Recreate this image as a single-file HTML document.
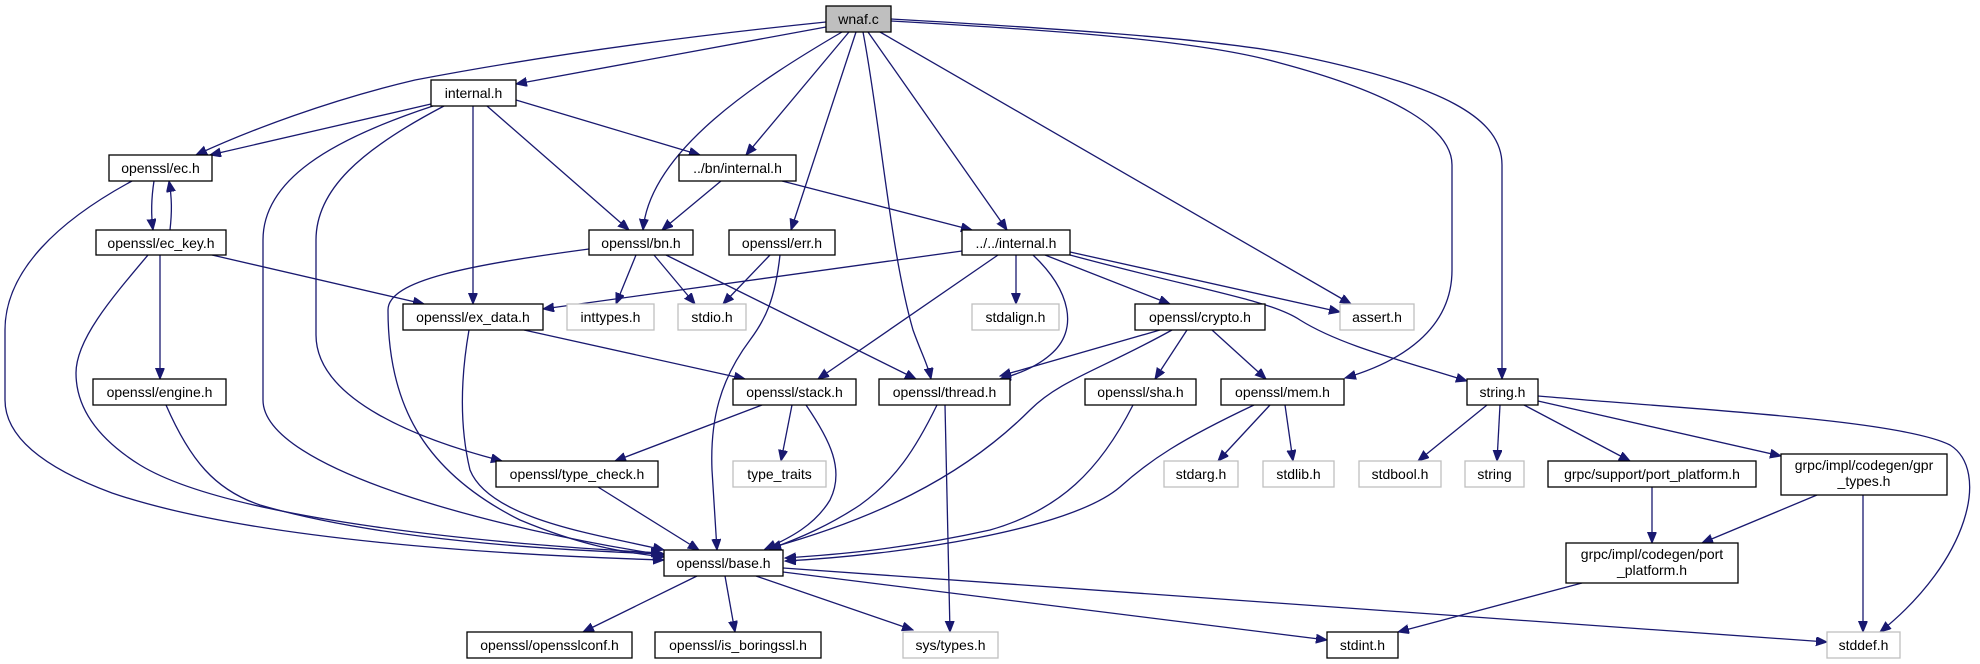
<!DOCTYPE html>
<html><head><meta charset="utf-8"><style>
html,body{margin:0;padding:0;background:#fff;}
svg{display:block;}
text{font-family:"Liberation Sans",sans-serif;font-size:14px;fill:#000;}
.e{fill:none;stroke:#191970;stroke-width:1.3;}
.n{fill:#fff;stroke:#000;stroke-width:1.3;}
.g{fill:#fff;stroke:#bfbfbf;stroke-width:1.3;}
</style></head><body>
<svg width="1980" height="664" viewBox="0 0 1980 664" xmlns="http://www.w3.org/2000/svg">
<defs><marker id="a" markerUnits="userSpaceOnUse" markerWidth="12" markerHeight="10" refX="11" refY="4.5" orient="auto"><path d="M0,0 L11,4.5 L0,9 z" fill="#191970" stroke="#191970"/></marker></defs>
<g marker-end="url(#a)">
<path class="e" d="M826,27 L516,84"/>
<path class="e" d="M826,22 C650,40 520,60 415,80 C330,100 250,130 196,155"/>
<path class="e" d="M842,32 C760,80 650,150 643,230"/>
<path class="e" d="M849,32 L746,155"/>
<path class="e" d="M856,32 L791,230"/>
<path class="e" d="M863,32 C880,120 890,250 913,330 C922,355 928,365 931,379"/>
<path class="e" d="M868,32 L1007,230"/>
<path class="e" d="M880,32 L1351,304"/>
<path class="e" d="M891,21 C1050,30 1200,40 1280,63 C1400,95 1452,130 1452,165 L1452,270 C1452,330 1400,362 1345,378"/>
<path class="e" d="M891,19 C1050,28 1200,38 1280,52 C1450,85 1502,120 1502,165 L1502,379"/>
<path class="e" d="M431,104 L210,155"/>
<path class="e" d="M473,106 L473,304"/>
<path class="e" d="M487,106 L629,230"/>
<path class="e" d="M516,100 L700,155"/>
<path class="e" d="M433,106 C330,140 263,180 263,240 L263,400 C263,470 500,530 664,555"/>
<path class="e" d="M444,106 C360,150 316,190 316,240 L316,335 C316,400 420,440 502,461"/>
<path class="e" d="M154,181 C151,200 151,215 153,230"/>
<path class="e" d="M170,230 C172,212 172,198 169,181"/>
<path class="e" d="M132,181 C60,220 5,270 5,330 L5,400 C5,440 50,470 112,493 C250,540 500,555 664,560"/>
<path class="e" d="M212,255 L424,304"/>
<path class="e" d="M160,255 L160,379"/>
<path class="e" d="M148,255 C110,300 76,340 76,373 C76,410 100,440 140,465 C230,520 500,545 662,553"/>
<path class="e" d="M166,405 C190,460 215,490 260,505 C380,540 550,550 664,554"/>
<path class="e" d="M589,249 C470,265 388,280 388,310 C388,400 420,470 520,520 C580,545 620,552 664,557"/>
<path class="e" d="M636,255 L616,304"/>
<path class="e" d="M654,255 L695,304"/>
<path class="e" d="M666,255 L916,379"/>
<path class="e" d="M721,181 L662,230"/>
<path class="e" d="M782,181 L972,230"/>
<path class="e" d="M770,255 L723,304"/>
<path class="e" d="M780,255 C775,300 765,320 750,340 C720,380 710,420 712,470 L717,550"/>
<path class="e" d="M962,251 L543,309"/>
<path class="e" d="M998,255 L818,379"/>
<path class="e" d="M1016,255 L1016,304"/>
<path class="e" d="M1033,255 C1070,290 1080,330 1050,355 C1035,368 1015,375 1000,379"/>
<path class="e" d="M1045,255 L1170,304"/>
<path class="e" d="M1070,252 L1340,312"/>
<path class="e" d="M1070,255 C1200,290 1270,300 1300,320 C1340,345 1400,360 1467,381"/>
<path class="e" d="M469,330 C462,370 458,420 470,470 C490,520 600,535 664,550"/>
<path class="e" d="M524,330 L745,379"/>
<path class="e" d="M1160,330 L1000,376"/>
<path class="e" d="M1172,330 C1100,370 1060,380 1030,410 C960,480 870,520 770,548"/>
<path class="e" d="M1187,330 L1155,379"/>
<path class="e" d="M1212,330 L1266,379"/>
<path class="e" d="M762,405 L615,461"/>
<path class="e" d="M792,405 L781,461"/>
<path class="e" d="M806,405 C830,440 845,470 830,500 C815,525 790,538 765,549"/>
<path class="e" d="M937,405 C915,450 895,480 860,505 C830,525 800,538 770,549"/>
<path class="e" d="M945,405 L950,632"/>
<path class="e" d="M1133,405 C1100,470 1060,510 990,530 C900,550 830,555 785,558"/>
<path class="e" d="M1254,405 C1180,440 1150,460 1120,487 C1070,530 900,555 785,561"/>
<path class="e" d="M1270,405 L1218,461"/>
<path class="e" d="M1285,405 L1293,461"/>
<path class="e" d="M598,487 L699,550"/>
<path class="e" d="M1487,405 L1418,461"/>
<path class="e" d="M1500,405 L1497,461"/>
<path class="e" d="M1524,405 L1630,461"/>
<path class="e" d="M1538,401 L1781,456"/>
<path class="e" d="M1538,396 C1700,410 1900,420 1950,445 C1990,470 1970,560 1880,632"/>
<path class="e" d="M1652,487 L1652,543"/>
<path class="e" d="M1817,495 L1702,543"/>
<path class="e" d="M1863,495 L1863,632"/>
<path class="e" d="M1582,583 L1398,632"/>
<path class="e" d="M697,576 L583,632"/>
<path class="e" d="M725,576 L735,632"/>
<path class="e" d="M756,576 L913,630"/>
<path class="e" d="M783,572 L1327,640"/>
<path class="e" d="M783,568 L1827,642"/>
</g>
<g>
<rect x="826" y="6" width="65" height="26" fill="#bfbfbf" stroke="#000" stroke-width="1.3"/><text x="858.5" y="24" text-anchor="middle">wnaf.c</text>
<rect class="n" x="431" y="80" width="85" height="26"/><text x="473.5" y="98" text-anchor="middle">internal.h</text>
<rect class="n" x="109" y="155" width="103" height="26"/><text x="160.5" y="173" text-anchor="middle">openssl/ec.h</text>
<rect class="n" x="679" y="155" width="117" height="26"/><text x="737.5" y="173" text-anchor="middle">../bn/internal.h</text>
<rect class="n" x="96" y="230" width="130" height="25"/><text x="161" y="248" text-anchor="middle">openssl/ec_key.h</text>
<rect class="n" x="589" y="230" width="104" height="25"/><text x="641" y="248" text-anchor="middle">openssl/bn.h</text>
<rect class="n" x="729" y="230" width="106" height="25"/><text x="782" y="248" text-anchor="middle">openssl/err.h</text>
<rect class="n" x="962" y="230" width="108" height="25"/><text x="1016" y="248" text-anchor="middle">../../internal.h</text>
<rect class="n" x="403" y="304" width="140" height="26"/><text x="473" y="322" text-anchor="middle">openssl/ex_data.h</text>
<rect class="g" x="567" y="304" width="87" height="26"/><text x="610.5" y="322" text-anchor="middle">inttypes.h</text>
<rect class="g" x="678" y="304" width="68" height="26"/><text x="712" y="322" text-anchor="middle">stdio.h</text>
<rect class="g" x="972" y="304" width="87" height="26"/><text x="1015.5" y="322" text-anchor="middle">stdalign.h</text>
<rect class="n" x="1135" y="304" width="130" height="26"/><text x="1200" y="322" text-anchor="middle">openssl/crypto.h</text>
<rect class="g" x="1340" y="304" width="74" height="26"/><text x="1377" y="322" text-anchor="middle">assert.h</text>
<rect class="n" x="93" y="379" width="133" height="26"/><text x="159.5" y="397" text-anchor="middle">openssl/engine.h</text>
<rect class="n" x="733" y="379" width="123" height="26"/><text x="794.5" y="397" text-anchor="middle">openssl/stack.h</text>
<rect class="n" x="879" y="379" width="131" height="26"/><text x="944.5" y="397" text-anchor="middle">openssl/thread.h</text>
<rect class="n" x="1085" y="379" width="111" height="26"/><text x="1140.5" y="397" text-anchor="middle">openssl/sha.h</text>
<rect class="n" x="1221" y="379" width="123" height="26"/><text x="1282.5" y="397" text-anchor="middle">openssl/mem.h</text>
<rect class="n" x="1467" y="379" width="71" height="26"/><text x="1502.5" y="397" text-anchor="middle">string.h</text>
<rect class="n" x="496" y="461" width="162" height="26"/><text x="577" y="479" text-anchor="middle">openssl/type_check.h</text>
<rect class="g" x="733" y="461" width="93" height="26"/><text x="779.5" y="479" text-anchor="middle">type_traits</text>
<rect class="g" x="1164" y="461" width="74" height="26"/><text x="1201" y="479" text-anchor="middle">stdarg.h</text>
<rect class="g" x="1263" y="461" width="71" height="26"/><text x="1298.5" y="479" text-anchor="middle">stdlib.h</text>
<rect class="g" x="1359" y="461" width="82" height="26"/><text x="1400" y="479" text-anchor="middle">stdbool.h</text>
<rect class="g" x="1465" y="461" width="59" height="26"/><text x="1494.5" y="479" text-anchor="middle">string</text>
<rect class="n" x="1548" y="461" width="208" height="26"/><text x="1652" y="479" text-anchor="middle">grpc/support/port_platform.h</text>
<rect class="n" x="1781" y="454" width="166" height="41"/><text x="1864" y="470" text-anchor="middle">grpc/impl/codegen/gpr</text><text x="1864" y="486" text-anchor="middle">_types.h</text>
<rect class="n" x="1566" y="543" width="172" height="40"/><text x="1652" y="559" text-anchor="middle">grpc/impl/codegen/port</text><text x="1652" y="575" text-anchor="middle">_platform.h</text>
<rect class="n" x="664" y="550" width="119" height="26"/><text x="723.5" y="568" text-anchor="middle">openssl/base.h</text>
<rect class="n" x="467" y="632" width="165" height="26"/><text x="549.5" y="650" text-anchor="middle">openssl/opensslconf.h</text>
<rect class="n" x="655" y="632" width="166" height="26"/><text x="738" y="650" text-anchor="middle">openssl/is_boringssl.h</text>
<rect class="g" x="903" y="632" width="95" height="26"/><text x="950.5" y="650" text-anchor="middle">sys/types.h</text>
<rect class="n" x="1327" y="632" width="71" height="26"/><text x="1362.5" y="650" text-anchor="middle">stdint.h</text>
<rect class="g" x="1827" y="632" width="73" height="26"/><text x="1863.5" y="650" text-anchor="middle">stddef.h</text>
</g>
</svg>
</body></html>
